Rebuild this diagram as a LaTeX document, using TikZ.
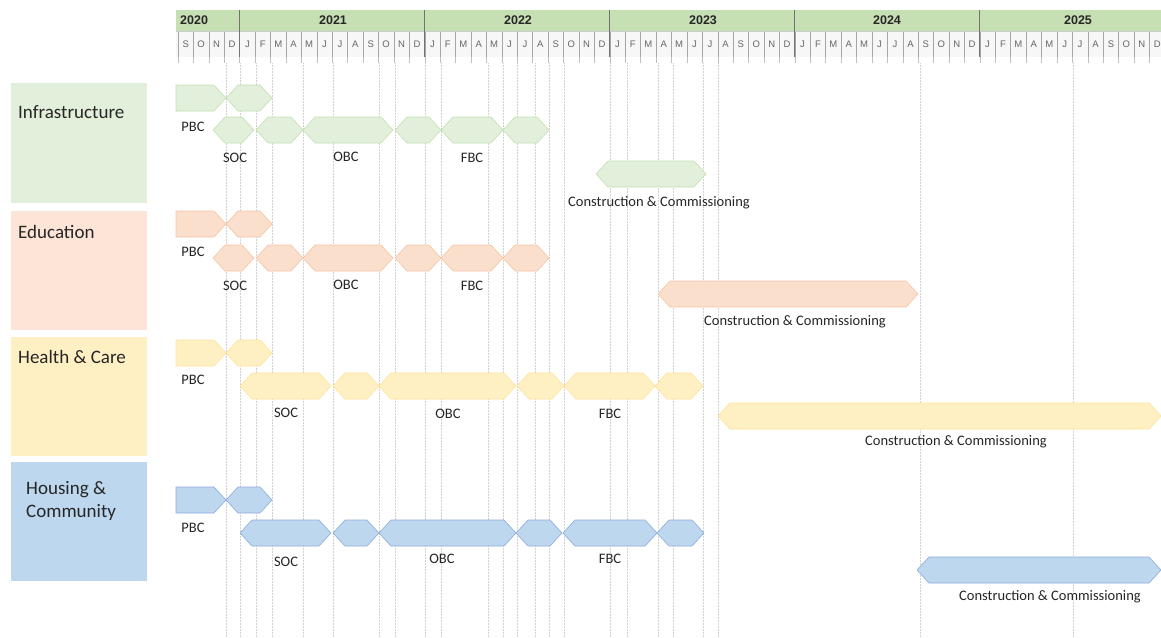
\documentclass[tikz,border=0pt]{standalone}
\usepackage{fontspec}
\setmainfont{Carlito}
\newfontfamily\arialf{Liberation Sans}
\begin{document}
\begin{tikzpicture}[x=1pt,y=-1pt,
  cattxt/.style={font=\fontsize{19}{23}\selectfont, text=black!85, anchor=west, align=left, inner sep=0},
  lbl/.style={font=\fontsize{14.5}{16}\selectfont, text=black!85, inner sep=0, yshift=-1pt},
  monthtxt/.style={font=\arialf\fontsize{9.5}{10}\selectfont, text=black!60, inner sep=0},
  yeartxt/.style={font=\arialf\bfseries\fontsize{12.5}{13}\selectfont, text=black!85, inner sep=0},
  grid/.style={draw=black!18, densely dotted, line width=0.5pt},
  gshape/.style={fill=infF, draw=infD, line width=0.6pt},
  eshape/.style={fill=eduF, draw=eduD, line width=0.6pt},
  hshape/.style={fill=heaF, draw=heaD, line width=0.6pt},
  bshape/.style={fill=houF, draw=houD, line width=0.6pt}]
\definecolor{infF}{HTML}{E2EFDA}\definecolor{infD}{HTML}{C5E0B4}
\definecolor{eduF}{HTML}{FBDFCD}\definecolor{eduD}{HTML}{F6C4A6}
\definecolor{heaF}{HTML}{FFF0C4}\definecolor{heaD}{HTML}{FFE39A}
\definecolor{houF}{HTML}{BDD7EE}\definecolor{houD}{HTML}{8FAADC}
\definecolor{hdrG}{HTML}{C6E0B4}
\useasboundingbox (0,0) rectangle (1161,637);
\fill[white] (0,0) rectangle (1161,637);
% hexagon macros: x1, x2, yc, style
\newcommand{\hexa}[4]{\path[#4] (#1,#3) -- (#1+12,#3-13) -- (#2-12,#3-13) -- (#2,#3) -- (#2-12,#3+13) -- (#1+12,#3+13) -- cycle;}
\newcommand{\flathex}[4]{\path[#4] (#1,#3-13) -- (#2-12,#3-13) -- (#2,#3) -- (#2-12,#3+13) -- (#1,#3+13) -- cycle;}
% grid lines
\foreach \gx in {226,240,256,272,303,333,379,395,425,441,488,503,517,535,549,564,610,627,658,673,703,718,920,1073}
  \draw[grid] (\gx,63) -- (\gx,637);
% header
\fill[hdrG] (176,10) rectangle (1161,31);
\fill[black!3] (176,31) rectangle (1161,57);
\foreach \m in {0,...,63} {
  \draw[black!35, line width=0.4pt] ({178+15.42*\m},31) -- ({178+15.42*\m},57);
  \draw[black!25, line width=0.4pt] ({178+15.42*\m},57) -- ({178+15.42*\m},63);
}
\draw[black!20, line width=0.4pt] (176,31) -- (1161,31);
\foreach \m in {4,16,28,40,52}
  \draw[black!55, line width=1.2pt] ({178+15.42*\m},10) -- ({178+15.42*\m},57);
\foreach [count=\i from 0] \l in {S,O,N,D,J,F,M,A,M,J,J,A,S,O,N,D,J,F,M,A,M,J,J,A,S,O,N,D,J,F,M,A,M,J,J,A,S,O,N,D,J,F,M,A,M,J,J,A,S,O,N,D,J,F,M,A,M,J,J,A,S,O,N,D}
  \node[monthtxt] (m\i) at ({178+15.42*(\i+0.5)},44) {\l};
\node[yeartxt, anchor=west] (y2020) at (180,20) {2020};
\node[yeartxt] (y2021) at (333,20) {2021};
\node[yeartxt] (y2022) at (518,20) {2022};
\node[yeartxt] (y2023) at (703,20) {2023};
\node[yeartxt] (y2024) at (887,20) {2024};
\node[yeartxt] (y2025) at (1078,20) {2025};
% category boxes
\fill[infF] (11,83) rectangle (147,203);
\fill[eduF!80!white] (11,211) rectangle (147,330);
\fill[heaF] (11,337) rectangle (147,456);
\fill[houF] (11,462) rectangle (147,581);
\node[cattxt] (cInf) at (18,112) {Infrastructure};
\node[cattxt] (cEdu) at (18,232) {Education};
\node[cattxt] (cHea) at (18,357) {Health \& Care};
\node[cattxt] (cHou) at (26,501) {Housing \&\\Community};
% Infrastructure
\flathex{176}{226}{98}{gshape}
\hexa{226}{272}{98}{gshape}
\hexa{213}{254}{130}{gshape}
\hexa{256}{303}{130}{gshape}
\hexa{303}{393}{130}{gshape}
\hexa{395}{441}{130}{gshape}
\hexa{441}{503}{130}{gshape}
\hexa{503}{549}{130}{gshape}
\hexa{596}{706}{174}{gshape}
\node[lbl] (iPBC) at (193,126) {PBC};
\node[lbl] (iSOC) at (235,157) {SOC};
\node[lbl] (iOBC) at (346,156) {OBC};
\node[lbl] (iFBC) at (472,157) {FBC};
\node[lbl] (iCC) at (659,202) {Construction \& Commissioning};
% Education
\flathex{176}{226}{224}{eshape}
\hexa{226}{272}{224}{eshape}
\hexa{213}{254}{258}{eshape}
\hexa{256}{303}{258}{eshape}
\hexa{303}{393}{258}{eshape}
\hexa{395}{441}{258}{eshape}
\hexa{441}{503}{258}{eshape}
\hexa{503}{549}{258}{eshape}
\hexa{658}{918}{294}{eshape}
\node[lbl] (ePBC) at (193,251) {PBC};
\node[lbl] (eSOC) at (235,285) {SOC};
\node[lbl] (eOBC) at (346,284) {OBC};
\node[lbl] (eFBC) at (472,285) {FBC};
\node[lbl] (eCC) at (795,321) {Construction \& Commissioning};
% Health & Care
\flathex{176}{226}{353}{hshape}
\hexa{226}{272}{353}{hshape}
\hexa{240}{331}{386}{hshape}
\hexa{333}{379}{386}{hshape}
\hexa{379}{516}{386}{hshape}
\hexa{517}{564}{386}{hshape}
\hexa{564}{655}{386}{hshape}
\hexa{655}{703}{386}{hshape}
\hexa{718}{1161}{416}{hshape}
\node[lbl] (hPBC) at (193,379) {PBC};
\node[lbl] (hSOC) at (286,412) {SOC};
\node[lbl] (hOBC) at (448,413) {OBC};
\node[lbl] (hFBC) at (610,413) {FBC};
\node[lbl] (hCC) at (956,441) {Construction \& Commissioning};
% Housing & Community
\flathex{176}{226}{500}{bshape}
\hexa{226}{272}{500}{bshape}
\hexa{240}{331}{533}{bshape}
\hexa{333}{379}{533}{bshape}
\hexa{379}{516}{533}{bshape}
\hexa{516}{562}{533}{bshape}
\hexa{563}{657}{533}{bshape}
\hexa{657}{704}{533}{bshape}
\hexa{917}{1161}{570}{bshape}
\node[lbl] (bPBC) at (193,527) {PBC};
\node[lbl] (bSOC) at (286,561) {SOC};
\node[lbl] (bOBC) at (442,558) {OBC};
\node[lbl] (bFBC) at (610,558) {FBC};
\node[lbl] (bCC) at (1050,596) {Construction \& Commissioning};
\end{tikzpicture}
\end{document}
